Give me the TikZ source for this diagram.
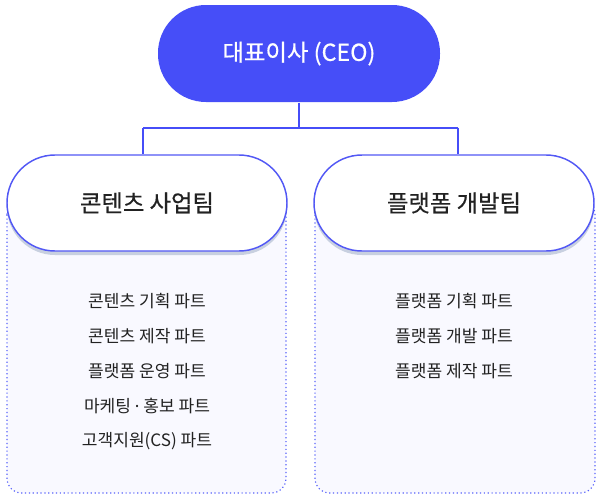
\documentclass[tikz,border=0pt]{standalone}
\usepackage{fontspec}
\setmainfont{Noto Sans CJK KR}
\newfontfamily\midfont{Noto Sans CJK KR}[FakeBold=0.6]
\newfontfamily\latinfont{Noto Sans}
\usetikzlibrary{positioning,shadows}

\definecolor{ceoblue}{RGB}{70,78,248}
\definecolor{pillline}{RGB}{82,88,245}
\definecolor{dotblue}{RGB}{88,98,250}
\definecolor{boxfill}{RGB}{249,249,255}
\definecolor{shadowgray}{RGB}{200,208,224}
\definecolor{itemtext}{RGB}{34,34,34}

\tikzset{every picture/.style={line width=0.75pt}}
\tikzset{
  pill/.style={rectangle, rounded corners=36pt, minimum width=210pt, minimum height=72pt, inner sep=0pt},
  teampill/.style={pill, draw=pillline, line width=1.1pt, fill=white, text=itemtext, font=\midfont\fontsize{17.5}{20}\selectfont,
    drop shadow={shadow xshift=0pt, shadow yshift=-3pt, fill=shadowgray, opacity=1}},
  partbox/.style={draw=dotblue, dotted, line width=0.9pt, fill=boxfill, rounded corners=11pt},
  item/.style={text=itemtext, font=\fontsize{12.8}{15}\selectfont, inner sep=0.75pt},
  conn/.style={draw=ceoblue, line width=1.5pt}
}

\begin{document}
\begin{tikzpicture}[x=0.75pt,y=0.75pt,yscale=-1,xscale=1]
        \useasboundingbox (0,0) rectangle (600,500);
        %Dotted part boxes
        \draw [partbox] (7,200) rectangle (286,493);
        \draw [partbox] (315,200) rectangle (595,493);

        %CEO
        \node [pill, fill=ceoblue, minimum width=211.5pt, minimum height=72.75pt, text=white, font=\midfont\fontsize{17.5}{20}\selectfont] (ceo) at (299,53.5) {대표이사 (CEO)};
        %Teams
        \node [teampill] (content) at (147,203) {콘텐츠 사업팀};
        \node [teampill] (platform) at (454,203) {플랫폼 개발팀};

        %Connectors
        \coordinate (lbar) at (143,127.5);
        \coordinate (rbar) at (457.5,127.5);
        \draw [conn] (ceo.south) -- (ceo.south |- lbar);
        \draw [conn] (lbar) -- (rbar);
        \draw [conn] (lbar) -- (lbar |- content.north);
        \draw [conn] (rbar) -- (rbar |- platform.north);

        %Parts
        \foreach \txt [count=\i] in {콘텐츠 기획 파트, 콘텐츠 제작 파트, 플랫폼 운영 파트, 마케팅 {\latinfont ·} 홍보 파트, 고객지원(CS) 파트}
          \node [item] (contentpart\i) at (147,266+35*\i) {\txt};
        \foreach \txt [count=\i] in {플랫폼 기획 파트, 플랫폼 개발 파트, 플랫폼 제작 파트}
          \node [item] (platformpart\i) at (454,266+35*\i) {\txt};
\end{tikzpicture}
\end{document}
